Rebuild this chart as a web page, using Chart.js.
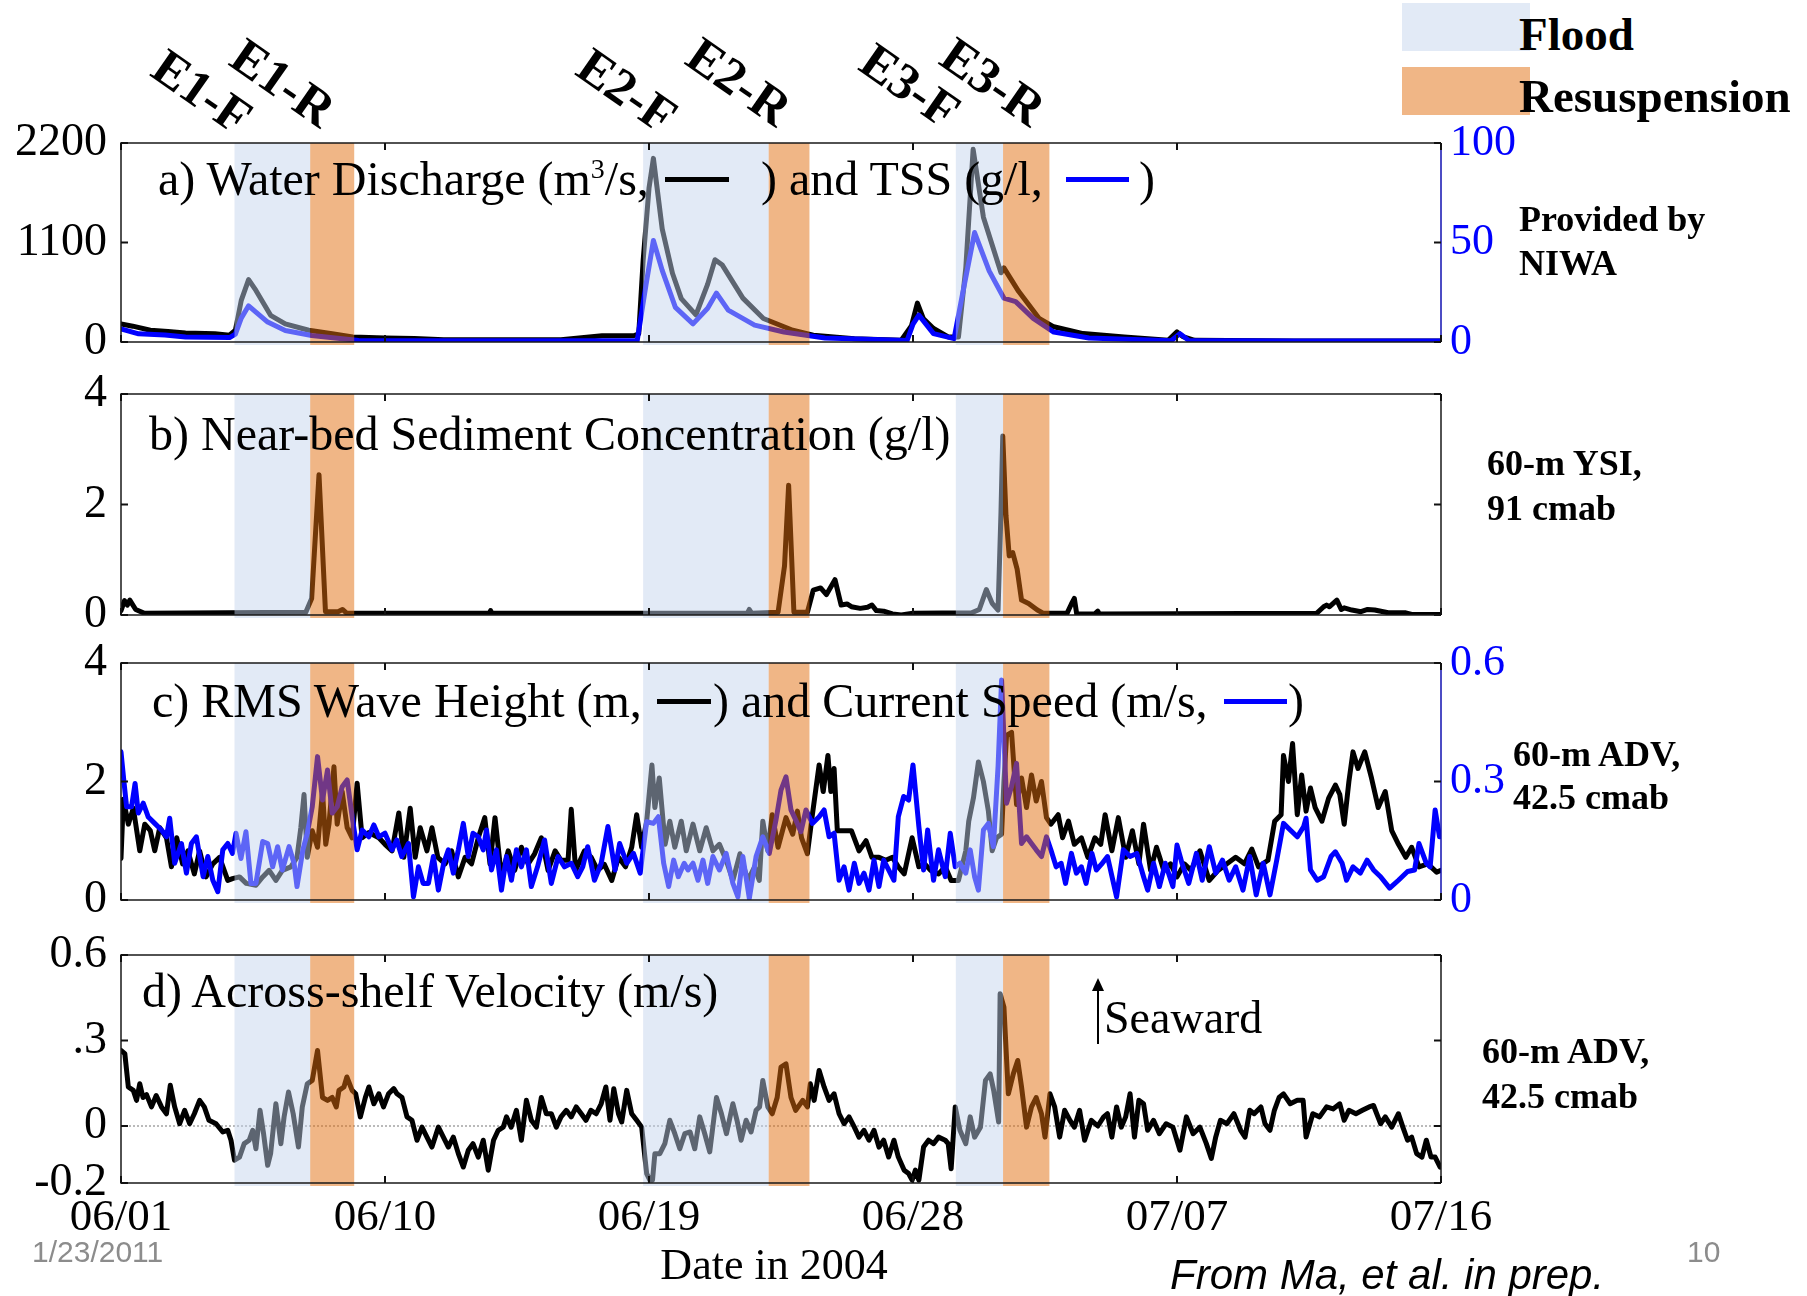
<!DOCTYPE html>
<html>
<head>
<meta charset="utf-8">
<script src="https://cdn.jsdelivr.net/npm/chart.js@4.4.0/dist/chart.umd.min.js"></script>
<style>
  body { margin: 0; background: #fff; }
  #page { position: relative; width: 1807px; height: 1296px; overflow: hidden; font-family: 'Liberation Serif', 'Times New Roman', serif; }
  canvas { position: absolute; left: 0; }
  .t { position: absolute; white-space: nowrap; line-height: 1; z-index: 3; color: #000; }
  .ttl { font-size: 48px; }
  .note { font-size: 36px; font-weight: bold; }
  .leg { font-size: 47px; font-weight: bold; }
  .ev { font-size: 51px; font-weight: bold; transform: translate(-50%, -50%) rotate(35deg); }
  .dash { position: absolute; height: 5px; z-index: 3; }
  .box { position: absolute; z-index: 1; }
  .sans { font-family: 'Liberation Sans', Arial, sans-serif; }
  sup { font-size: 28px; vertical-align: 17px; line-height: 0; }
</style>
</head>
<body>
<div id="page">
  <canvas id="ca" width="1807" height="289" style="top:98px"></canvas>
  <canvas id="cb" width="1807" height="311" style="top:349px"></canvas>
  <canvas id="cc" width="1807" height="327" style="top:618px"></canvas>
  <canvas id="cd" width="1807" height="343" style="top:910px"></canvas>

  <!-- event labels -->
  <div class="t ev" style="left:202px;top:92px">E1-F</div>
  <div class="t ev" style="left:283px;top:83px">E1-R</div>
  <div class="t ev" style="left:627px;top:91px">E2-F</div>
  <div class="t ev" style="left:739px;top:82px">E2-R</div>
  <div class="t ev" style="left:910px;top:86px">E3-F</div>
  <div class="t ev" style="left:993px;top:82px">E3-R</div>

  <!-- legend -->
  <div class="box" style="left:1402px;top:3px;width:128px;height:48px;background:#e2eaf6"></div>
  <div class="box" style="left:1402px;top:67px;width:128px;height:48px;background:#f0b686"></div>
  <div class="t leg" style="left:1519px;top:11px">Flood</div>
  <div class="t leg" style="left:1519px;top:73px">Resuspension</div>

  <!-- panel titles -->
  <div class="t ttl" style="left:158px;top:155px">a) Water Discharge (m<sup>3</sup>/s,</div>
  <div class="dash" style="left:665px;top:177px;width:64px;background:#000"></div>
  <div class="t ttl" style="left:761px;top:155px">) and TSS (g/l,</div>
  <div class="dash" style="left:1066px;top:177px;width:63px;background:#0000ff"></div>
  <div class="t ttl" style="left:1139px;top:155px">)</div>

  <div class="t ttl" style="left:149px;top:410px">b) Near-bed Sediment Concentration (g/l)</div>

  <div class="t ttl" style="left:152px;top:677px">c) RMS Wave Height (m,</div>
  <div class="dash" style="left:657px;top:699px;width:54px;background:#000"></div>
  <div class="t ttl" style="left:713px;top:677px">) and Current Speed (m/s,</div>
  <div class="dash" style="left:1224px;top:699px;width:63px;background:#0000ff"></div>
  <div class="t ttl" style="left:1288px;top:677px">)</div>

  <div class="t ttl" style="left:142px;top:967px">d) Across-shelf Velocity (m/s)</div>

  <!-- seaward arrow -->
  <svg style="position:absolute;left:1088px;top:978px;z-index:3" width="20" height="70">
    <line x1="10" y1="10" x2="10" y2="66" stroke="#000" stroke-width="2"/>
    <polygon points="10,0 4,13 16,13" fill="#000"/>
  </svg>
  <div class="t" style="left:1104px;top:995px;font-size:46px">Seaward</div>

  <!-- instrument notes -->
  <div class="t note" style="left:1519px;top:201px">Provided by</div>
  <div class="t note" style="left:1519px;top:245px">NIWA</div>
  <div class="t note" style="left:1487px;top:445px">60-m YSI,</div>
  <div class="t note" style="left:1487px;top:490px">91 cmab</div>
  <div class="t note" style="left:1513px;top:736px">60-m ADV,</div>
  <div class="t note" style="left:1513px;top:779px">42.5 cmab</div>
  <div class="t note" style="left:1482px;top:1033px">60-m ADV,</div>
  <div class="t note" style="left:1482px;top:1078px">42.5 cmab</div>

  <!-- footer -->
  <div class="t" style="left:774px;top:1243px;font-size:44px;transform:translateX(-50%)">Date in 2004</div>
  <div class="t sans" style="left:32px;top:1237px;font-size:30px;color:#8c8c8c">1/23/2011</div>
  <div class="t sans" style="left:1687px;top:1237px;font-size:30px;color:#8c8c8c">10</div>
  <div class="t sans" style="left:1170px;top:1254px;font-size:42px;font-style:italic">From Ma, et al. in prep.</div>
</div>

<script>
// x axis = days since 06/01/2004
const dateLabels = ['06/01', '06/10', '06/19', '06/28', '07/07', '07/16'];
const dayTicks = [0, 9, 18, 27, 36, 45];

// event windows (days)
const floodBands = [[3.87, 6.45], [17.8, 22.08], [28.46, 30.07]];
const resuspBands = [[6.45, 7.95], [22.08, 23.47], [30.07, 31.65]];

// y tick values / labels
const aLeftTicks = [0, 1100, 2200];
const aRightTicks = [0, 50, 100];
const bTicks = [0, 2, 4];
const cLeftTicks = [0, 2, 4];
const cRightTicks = [0, 0.3, 0.6];
const cRightLabels = ['0', '0.3', '0.6'];
const dTicks = [-0.2, 0, 0.3, 0.6];
const dTickLabels = ['-0.2', '0', '.3', '0.6'];

// a) water discharge, m3/s  [day, value]
const discharge = [[0,200],[0.4,175],[1.0,130],[1.6,115],[2.2,100],[3.2,92],[3.7,75],[3.9,130],[4.1,460],[4.35,690],[4.6,570],[5.1,295],[5.6,200],[6.4,130],[7.2,92],[7.9,55],[9.0,45],[10.0,40],[11,25],[13,25],[15,25],[16.4,70],[17.5,72],[17.65,90],[17.8,900],[18.0,1700],[18.15,2030],[18.45,1250],[18.8,760],[19.1,480],[19.6,300],[20.0,640],[20.25,910],[20.5,850],[21.2,485],[21.9,260],[22.9,130],[23.6,75],[25.0,37],[26.6,20],[26.95,180],[27.15,430],[27.35,260],[27.7,150],[28.2,56],[28.55,56],[28.8,820],[29.05,2130],[29.4,1380],[30.0,765],[30.1,820],[30.6,560],[31.3,260],[31.8,168],[32.8,93],[34.2,56],[35.7,19],[36.0,112],[36.2,60],[36.6,19],[40,12],[45,12]];

// a) TSS, g/l
const tss = [[0,6.6],[0.6,4.1],[1.5,3.5],[2.2,2.5],[3.7,2.2],[3.9,4],[4.1,12],[4.35,18.2],[4.6,15],[5.0,10],[5.6,5.8],[6.5,3.3],[7.3,2],[8.1,0.8],[10,0.6],[14,0.6],[17.6,0.8],[17.9,29],[18.15,51],[18.45,36],[18.9,17.4],[19.5,9.1],[20.0,17],[20.3,24.6],[20.7,16],[21.6,8.5],[22.6,5],[24.0,2],[26.8,0.8],[27.0,9],[27.2,13.5],[27.7,4.2],[28.4,1.7],[28.7,25],[29.1,55],[29.6,35.6],[30.1,22],[30.5,20.3],[31.1,11.9],[31.8,5],[33.0,2],[35.8,0.6],[36.1,4.2],[36.4,0.8],[40,0.5],[45,0.5]];

// b) near-bed sediment concentration, g/l
const sediment = [[0,0.08],[0.12,0.26],[0.22,0.18],[0.3,0.27],[0.5,0.1],[0.8,0.03],[6.3,0.05],[6.5,0.3],[6.75,2.54],[6.97,0.06],[7.4,0.06],[7.55,0.1],[7.7,0.03],[12.55,0.03],[12.6,0.08],[12.65,0.03],[21.35,0.03],[21.42,0.1],[21.5,0.03],[22.4,0.05],[22.62,0.89],[22.76,2.35],[22.94,0.05],[23.4,0.05],[23.6,0.45],[23.85,0.49],[24.05,0.37],[24.34,0.64],[24.55,0.18],[24.75,0.2],[24.9,0.15],[25.2,0.12],[25.45,0.14],[25.6,0.18],[25.75,0.08],[26.0,0.07],[26.3,0.02],[26.6,0.0],[27.0,0.03],[29.0,0.04],[29.26,0.1],[29.5,0.46],[29.7,0.21],[29.9,0.09],[30.0,1.87],[30.06,3.24],[30.17,1.8],[30.28,1.07],[30.4,1.13],[30.55,0.83],[30.7,0.27],[30.94,0.21],[31.24,0.09],[31.45,0.03],[32.25,0.03],[32.4,0.2],[32.5,0.3],[32.58,0.02],[33.2,0.02],[33.3,0.07],[33.35,0.02],[40.76,0.03],[41.0,0.15],[41.1,0.18],[41.2,0.15],[41.45,0.27],[41.6,0.1],[41.7,0.13],[41.96,0.09],[42.27,0.06],[42.5,0.1],[42.74,0.09],[43.2,0.04],[43.8,0.04],[44.0,0.01],[45.0,0.01]];

// c) RMS wave height, m
const waveHeight = [[0,0.7],[0.08,1.7],[0.25,1.28],[0.42,1.55],[0.64,0.83],[0.81,1.28],[1.0,1.17],[1.15,0.83],[1.32,1.22],[1.55,1.05],[1.72,0.56],[1.9,1.05],[2.1,0.61],[2.28,0.83],[2.5,0.44],[2.68,0.83],[2.9,0.39],[3.13,0.61],[3.36,0.72],[3.64,0.33],[3.8,0.36],[4.04,0.39],[4.27,0.28],[4.6,0.25],[4.83,0.39],[5.05,0.5],[5.28,0.33],[5.5,0.5],[5.79,0.56],[6.0,0.72],[6.13,1.22],[6.24,1.78],[6.35,0.72],[6.52,1.17],[6.7,0.89],[6.87,1.83],[6.98,0.94],[7.09,1.28],[7.26,2.25],[7.37,1.28],[7.54,1.83],[7.71,1.22],[7.88,1.05],[8.05,1.97],[8.22,1.05],[8.45,1.14],[8.79,1.05],[9.0,0.94],[9.24,0.83],[9.47,1.47],[9.64,0.72],[9.86,1.55],[10.03,0.72],[10.2,1.22],[10.43,0.83],[10.6,1.22],[10.8,0.72],[11.05,0.61],[11.27,0.83],[11.5,0.39],[11.73,0.72],[11.95,0.61],[12.18,1.05],[12.4,1.39],[12.58,0.61],[12.75,1.39],[12.97,0.39],[13.2,0.83],[13.42,0.5],[13.65,0.89],[13.88,0.61],[14.1,0.78],[14.33,1.05],[14.56,0.5],[14.8,0.83],[15.0,0.67],[15.24,0.67],[15.35,1.53],[15.5,0.5],[15.8,0.83],[16.03,0.72],[16.25,0.5],[16.48,0.6],[16.73,0.33],[16.96,0.72],[17.2,0.56],[17.41,0.89],[17.58,1.44],[17.75,0.89],[17.92,1.33],[18.1,2.28],[18.2,1.56],[18.35,2.06],[18.55,0.94],[18.71,1.33],[18.88,0.89],[19.1,1.33],[19.27,0.83],[19.5,1.28],[19.73,0.83],[19.95,1.22],[20.18,0.83],[20.4,0.94],[20.63,0.67],[20.86,0.33],[21.1,0.78],[21.37,0.33],[21.6,0.56],[21.76,0.33],[21.88,1.33],[22.05,0.83],[22.2,1.44],[22.4,0.89],[22.67,1.39],[22.9,1.11],[23.06,1.5],[23.2,1.05],[23.4,0.78],[23.57,1.44],[23.8,2.28],[23.94,1.83],[24.1,2.44],[24.2,1.83],[24.31,2.22],[24.42,1.17],[24.9,1.17],[25.16,0.83],[25.4,1.0],[25.6,0.72],[25.84,0.72],[26.07,0.67],[26.3,0.72],[26.5,0.56],[26.7,0.44],[26.97,1.05],[27.2,0.56],[27.4,0.61],[27.6,0.5],[27.87,0.44],[28.1,0.56],[28.3,0.33],[28.55,0.33],[28.8,0.83],[28.9,1.33],[29.06,1.72],[29.23,2.33],[29.4,2.0],[29.57,1.5],[29.7,0.83],[29.85,1.05],[30.02,1.11],[30.1,2.0],[30.19,2.78],[30.36,2.83],[30.53,1.61],[30.7,2.06],[30.87,1.56],[31.04,2.11],[31.2,1.67],[31.38,2.0],[31.55,1.39],[31.7,1.28],[31.95,1.44],[32.1,1.05],[32.3,1.33],[32.5,0.94],[32.74,1.05],[32.96,0.72],[33.2,1.05],[33.4,0.94],[33.55,1.44],[33.78,0.83],[34.0,1.39],[34.25,0.72],[34.48,1.17],[34.7,0.61],[34.86,1.28],[35.1,0.5],[35.3,0.89],[35.55,0.5],[35.78,0.61],[36.0,0.39],[36.25,0.61],[36.48,0.5],[36.78,0.83],[37.1,0.33],[37.4,0.5],[37.7,0.61],[38.0,0.72],[38.3,0.61],[38.55,0.86],[38.78,0.56],[39.1,0.67],[39.33,1.33],[39.55,1.44],[39.63,2.44],[39.8,2.0],[39.94,2.64],[40.1,1.44],[40.25,2.11],[40.4,1.5],[40.55,1.89],[40.71,1.56],[40.94,1.33],[41.17,1.72],[41.4,1.94],[41.55,1.78],[41.7,1.28],[41.86,2.0],[42.0,2.5],[42.17,2.22],[42.4,2.5],[42.63,2.06],[42.86,1.56],[43.1,1.83],[43.32,1.17],[43.55,0.94],[43.8,0.72],[44.0,0.89],[44.25,0.56],[44.55,0.61],[44.85,0.47],[45.0,0.5]];

// c) current speed, m/s
const currentSpeed = [[0,0.375],[0.1,0.3],[0.19,0.236],[0.36,0.236],[0.48,0.295],[0.59,0.22],[0.76,0.245],[0.93,0.21],[1.15,0.194],[1.38,0.177],[1.55,0.16],[1.66,0.207],[1.83,0.093],[2.06,0.143],[2.23,0.068],[2.4,0.143],[2.57,0.16],[2.8,0.059],[2.96,0.11],[3.13,0.05],[3.3,0.021],[3.47,0.127],[3.64,0.143],[3.8,0.118],[3.92,0.169],[4.09,0.105],[4.26,0.173],[4.43,0.042],[4.6,0.042],[4.83,0.148],[5.0,0.143],[5.17,0.084],[5.34,0.135],[5.5,0.076],[5.73,0.135],[5.9,0.093],[6.0,0.034],[6.2,0.127],[6.35,0.169],[6.52,0.236],[6.7,0.363],[6.87,0.253],[7.04,0.329],[7.2,0.22],[7.37,0.236],[7.54,0.287],[7.71,0.304],[7.88,0.211],[8.05,0.127],[8.22,0.177],[8.45,0.16],[8.62,0.19],[8.79,0.16],[9.0,0.169],[9.24,0.127],[9.4,0.152],[9.57,0.11],[9.8,0.143],[9.97,0.008],[10.14,0.084],[10.3,0.042],[10.48,0.042],[10.65,0.11],[10.82,0.025],[11.0,0.093],[11.16,0.127],[11.33,0.068],[11.5,0.127],[11.67,0.194],[11.84,0.11],[12.0,0.169],[12.18,0.16],[12.35,0.127],[12.46,0.177],[12.63,0.076],[12.8,0.127],[12.97,0.025],[13.14,0.11],[13.31,0.05],[13.48,0.127],[13.65,0.084],[13.82,0.127],[13.99,0.034],[14.2,0.084],[14.44,0.152],[14.67,0.042],[14.9,0.11],[15.12,0.084],[15.35,0.093],[15.57,0.059],[15.74,0.084],[15.91,0.135],[16.14,0.05],[16.37,0.093],[16.6,0.186],[16.84,0.076],[17.0,0.143],[17.24,0.093],[17.47,0.118],[17.7,0.068],[17.92,0.198],[18.15,0.194],[18.32,0.211],[18.5,0.093],[18.67,0.034],[18.84,0.101],[19.0,0.059],[19.2,0.093],[19.33,0.076],[19.5,0.093],[19.67,0.05],[19.84,0.101],[20.0,0.042],[20.18,0.11],[20.4,0.076],[20.63,0.118],[20.86,0.042],[21.03,0.008],[21.2,0.11],[21.42,0.004],[21.65,0.11],[21.88,0.16],[22.1,0.118],[22.33,0.203],[22.5,0.278],[22.67,0.312],[22.84,0.228],[23.0,0.203],[23.18,0.173],[23.35,0.228],[23.57,0.194],[23.8,0.211],[23.97,0.228],[24.14,0.16],[24.31,0.169],[24.48,0.05],[24.65,0.084],[24.82,0.025],[25.0,0.093],[25.16,0.042],[25.33,0.068],[25.5,0.025],[25.67,0.101],[25.84,0.034],[26.0,0.101],[26.17,0.076],[26.35,0.05],[26.5,0.211],[26.68,0.262],[26.85,0.253],[27.0,0.342],[27.2,0.186],[27.36,0.076],[27.5,0.177],[27.7,0.05],[27.87,0.127],[28.1,0.059],[28.27,0.169],[28.44,0.084],[28.6,0.093],[28.8,0.068],[28.95,0.127],[29.1,0.059],[29.23,0.025],[29.4,0.177],[29.57,0.194],[29.74,0.135],[29.9,0.338],[30.02,0.557],[30.19,0.245],[30.36,0.287],[30.53,0.346],[30.7,0.143],[30.87,0.16],[31.04,0.143],[31.2,0.127],[31.38,0.11],[31.55,0.16],[31.7,0.127],[31.88,0.084],[32.05,0.093],[32.2,0.042],[32.4,0.118],[32.57,0.068],[32.74,0.084],[32.9,0.042],[33.1,0.118],[33.25,0.076],[33.42,0.09],[33.63,0.11],[33.94,0.008],[34.17,0.127],[34.4,0.11],[34.63,0.118],[34.86,0.059],[35.0,0.025],[35.2,0.093],[35.4,0.034],[35.6,0.093],[35.86,0.034],[36.0,0.139],[36.17,0.093],[36.4,0.042],[36.66,0.118],[36.86,0.05],[37.1,0.135],[37.32,0.068],[37.55,0.101],[37.78,0.05],[38.0,0.084],[38.25,0.025],[38.48,0.11],[38.7,0.013],[38.94,0.093],[39.17,0.013],[39.4,0.101],[39.63,0.194],[39.86,0.177],[40.1,0.16],[40.32,0.186],[40.4,0.207],[40.55,0.076],[40.78,0.05],[41.0,0.059],[41.25,0.11],[41.4,0.122],[41.63,0.093],[41.78,0.05],[42.0,0.084],[42.25,0.068],[42.48,0.101],[42.7,0.076],[42.94,0.059],[43.25,0.03],[43.55,0.05],[43.86,0.072],[44.1,0.076],[44.25,0.143],[44.5,0.093],[44.63,0.084],[44.8,0.228],[44.95,0.16]];

// d) across-shelf velocity, m/s (positive = seaward)
const acrossShelf = [[0,0.265],[0.13,0.254],[0.25,0.137],[0.42,0.125],[0.53,0.09],[0.64,0.148],[0.75,0.1],[0.87,0.11],[1.04,0.067],[1.2,0.107],[1.38,0.067],[1.55,0.043],[1.68,0.143],[1.83,0.067],[2.0,0.008],[2.17,0.055],[2.34,0.008],[2.5,0.043],[2.68,0.09],[2.84,0.067],[3.0,0.02],[3.24,0.008],[3.47,-0.021],[3.64,-0.015],[3.75,-0.05],[3.87,-0.12],[4.04,-0.109],[4.2,-0.062],[4.37,-0.05],[4.49,-0.015],[4.6,-0.08],[4.74,0.055],[4.86,-0.027],[5.0,-0.138],[5.1,-0.097],[5.28,0.078],[5.45,-0.062],[5.56,0.032],[5.71,0.119],[5.87,0.043],[6.05,-0.074],[6.18,0.067],[6.35,0.148],[6.52,0.16],[6.7,0.265],[6.87,0.1],[7.04,0.09],[7.2,0.1],[7.34,0.067],[7.43,0.125],[7.6,0.137],[7.7,0.172],[7.88,0.125],[8.0,0.113],[8.16,0.032],[8.33,0.1],[8.45,0.137],[8.62,0.078],[8.79,0.113],[8.95,0.067],[9.12,0.113],[9.3,0.131],[9.41,0.113],[9.58,0.1],[9.75,0.032],[9.92,0.02],[10.09,-0.05],[10.26,-0.004],[10.43,-0.039],[10.6,-0.074],[10.82,-0.004],[10.99,-0.039],[11.16,-0.074],[11.33,-0.039],[11.5,-0.097],[11.67,-0.144],[11.84,-0.085],[12.0,-0.062],[12.18,-0.109],[12.35,-0.05],[12.52,-0.155],[12.7,-0.05],[12.86,-0.015],[13.03,-0.004],[13.14,0.032],[13.3,-0.004],[13.48,0.055],[13.65,-0.05],[13.82,0.09],[13.99,0.02],[14.16,-0.004],[14.33,0.1],[14.5,0.043],[14.67,0.043],[14.84,-0.004],[15.0,0.032],[15.18,0.055],[15.35,0.032],[15.52,0.067],[15.69,0.043],[15.85,0.02],[16.02,0.055],[16.2,0.043],[16.37,0.078],[16.53,0.137],[16.67,0.02],[16.8,0.131],[16.96,0.043],[17.07,0.014],[17.24,0.125],[17.41,0.043],[17.58,0.02],[17.75,-0.004],[17.92,-0.167],[18.03,-0.19],[18.12,-0.19],[18.2,-0.097],[18.37,-0.097],[18.54,-0.062],[18.71,0.02],[18.88,-0.027],[19.05,-0.08],[19.22,-0.027],[19.4,-0.021],[19.56,-0.08],[19.73,0.032],[19.9,-0.027],[20.07,-0.091],[20.3,0.1],[20.47,0.043],[20.64,-0.027],[20.86,0.078],[21.0,0.02],[21.14,-0.05],[21.31,0.02],[21.48,-0.021],[21.65,0.055],[21.77,0.067],[21.88,0.16],[22.05,0.067],[22.2,0.043],[22.37,0.1],[22.5,0.207],[22.67,0.218],[22.84,0.1],[23.0,0.055],[23.24,0.09],[23.4,0.067],[23.5,0.148],[23.63,0.09],[23.8,0.195],[23.97,0.137],[24.14,0.09],[24.31,0.113],[24.48,0.043],[24.65,0.008],[24.82,0.032],[25.0,-0.004],[25.16,-0.039],[25.33,-0.015],[25.5,-0.05],[25.67,-0.015],[25.84,-0.074],[26.0,-0.05],[26.17,-0.109],[26.35,-0.05],[26.5,-0.109],[26.7,-0.155],[26.85,-0.167],[26.97,-0.19],[27.08,-0.155],[27.2,-0.19],[27.36,-0.074],[27.53,-0.05],[27.7,-0.062],[27.87,-0.039],[28.1,-0.05],[28.2,-0.062],[28.3,-0.15],[28.44,0.067],[28.6,-0.015],[28.8,-0.062],[28.95,0.032],[29.1,-0.039],[29.3,-0.004],[29.47,0.16],[29.63,0.183],[29.75,0.125],[29.92,0.014],[29.97,0.464],[30.1,0.417],[30.25,0.113],[30.42,0.183],[30.57,0.23],[30.7,0.137],[30.87,-0.004],[31.04,0.067],[31.2,0.1],[31.38,0.043],[31.5,-0.039],[31.67,0.113],[31.83,0.067],[32.0,-0.039],[32.17,0.055],[32.35,0.02],[32.5,-0.004],[32.68,0.055],[32.85,-0.05],[33.08,0.02],[33.3,0.0],[33.5,0.032],[33.63,0.043],[33.78,-0.039],[33.94,0.067],[34.1,-0.004],[34.25,0.032],[34.4,0.113],[34.55,-0.039],[34.7,0.09],[34.86,0.078],[35.0,-0.015],[35.2,0.02],[35.4,-0.027],[35.63,0.008],[35.86,-0.004],[36.1,-0.085],[36.32,0.032],[36.55,-0.027],[36.78,-0.004],[37.0,-0.062],[37.17,-0.114],[37.32,-0.039],[37.48,0.02],[37.7,0.008],[37.94,0.043],[38.17,-0.015],[38.32,-0.039],[38.48,0.055],[38.63,0.043],[38.86,0.067],[39.0,0.008],[39.17,-0.015],[39.32,0.055],[39.48,0.1],[39.63,0.113],[39.86,0.078],[40.1,0.09],[40.3,0.09],[40.4,-0.039],[40.63,0.043],[40.86,0.032],[41.1,0.067],[41.32,0.06],[41.55,0.078],[41.7,0.02],[41.86,0.055],[42.1,0.043],[42.32,0.055],[42.55,0.067],[42.7,0.072],[42.94,0.008],[43.1,0.032],[43.32,-0.004],[43.55,0.043],[43.7,-0.004],[43.86,-0.05],[44.0,-0.039],[44.17,-0.097],[44.35,-0.109],[44.5,-0.05],[44.66,-0.109],[44.8,-0.109],[44.97,-0.144]];

Chart.defaults.font.family = "'Liberation Serif', 'Times New Roman', serif";
Chart.defaults.color = '#000';

const pts = arr => arr.map(p => ({ x: p[0], y: p[1] }));

// bands over the curves, box frame, inward ticks, zero line
const panelDecor = {
  id: 'panelDecor',
  beforeDatasetsDraw(chart, args, o) {
    if (!o.zeroLine) return;
    const { ctx, chartArea: a, scales } = chart;
    const y0 = scales.y.getPixelForValue(0);
    ctx.save();
    ctx.strokeStyle = '#777';
    ctx.lineWidth = 1;
    ctx.setLineDash([2, 2]);
    ctx.beginPath(); ctx.moveTo(a.left, y0); ctx.lineTo(a.right, y0); ctx.stroke();
    ctx.restore();
  },
  afterDatasetsDraw(chart, args, o) {
    const { ctx, chartArea: a, scales } = chart;
    const x = scales.x, y = scales.y;
    ctx.save();
    const band = (list, color) => list.forEach(b => {
      const x0 = x.getPixelForValue(b[0]), x1 = x.getPixelForValue(b[1]);
      ctx.fillStyle = color;
      ctx.fillRect(x0, a.top, x1 - x0, a.bottom - a.top + 3);
    });
    band(floodBands, 'rgba(195,211,236,0.48)');
    band(resuspBands, 'rgba(225,109,13,0.5)');

    ctx.lineWidth = 1.5;
    ctx.strokeStyle = '#1a1a1a';
    ctx.beginPath();
    ctx.moveTo(a.right, a.top); ctx.lineTo(a.left, a.top);
    ctx.lineTo(a.left, a.bottom); ctx.lineTo(a.right, a.bottom);
    ctx.stroke();
    ctx.strokeStyle = o.rightColor || '#1a1a1a';
    ctx.beginPath(); ctx.moveTo(a.right, a.top); ctx.lineTo(a.right, a.bottom); ctx.stroke();

    ctx.lineWidth = 2;
    ctx.strokeStyle = '#111';
    ctx.beginPath();
    y.ticks.forEach(t => {
      const py = y.getPixelForValue(t.value);
      ctx.moveTo(a.left, py); ctx.lineTo(a.left + 7, py);
      ctx.moveTo(a.right, py); ctx.lineTo(a.right - 7, py);
    });
    dayTicks.forEach(d => {
      const px = x.getPixelForValue(d);
      ctx.moveTo(px, a.top); ctx.lineTo(px, a.top + 7);
      ctx.moveTo(px, a.bottom); ctx.lineTo(px, a.bottom - 7);
    });
    ctx.stroke();
    ctx.restore();
  }
};

function series(data, color, axis, order) {
  return {
    data: pts(data), borderColor: color, borderWidth: 5, pointRadius: 0,
    tension: 0, yAxisID: axis, order: order,
    borderJoinStyle: 'round', borderCapStyle: 'round'
  };
}

function yAxis(pos, min, max, ticks, labels, color, show, width) {
  return {
    position: pos, min: min, max: max,
    grid: { display: false, drawTicks: false },
    border: { display: false },
    afterBuildTicks: s => { s.ticks = ticks.map(v => ({ value: v })); },
    afterFit: s => { s.width = width; },
    ticks: {
      display: show, color: color, padding: pos === 'left' ? 14 : 9,
      font: { size: pos === 'left' ? 46 : 44 },
      callback: (v, i) => labels[i]
    }
  };
}

function panel(id, cfg) {
  const showX = !!cfg.showX;
  return new Chart(document.getElementById(id), {
    type: 'line',
    data: { datasets: cfg.datasets },
    options: {
      responsive: false, animation: false, devicePixelRatio: 1,
      layout: { padding: { top: 45, bottom: showX ? 10 : 45, left: 0, right: 0 } },
      plugins: {
        legend: { display: false }, tooltip: { enabled: false },
        panelDecor: { rightColor: cfg.rightColor, zeroLine: cfg.zeroLine }
      },
      scales: {
        x: {
          type: 'linear', min: 0, max: 45, display: showX,
          grid: { display: false, drawTicks: false },
          border: { display: false },
          afterBuildTicks: s => { s.ticks = dayTicks.map(v => ({ value: v })); },
          afterFit: s => { s.height = showX ? 60 : 0; },
          ticks: {
            autoSkip: false, maxRotation: 0, padding: 8,
            font: { size: 45 },
            callback: (v, i) => dateLabels[i]
          }
        },
        y: cfg.y,
        y2: cfg.y2
      }
    },
    plugins: [panelDecor]
  });
}

panel('ca', {
  datasets: [series(tss, '#0000ff', 'y2', 0), series(discharge, '#000', 'y', 1)],
  y: yAxis('left', 0, 2200, aLeftTicks, aLeftTicks.map(String), '#000', true, 121),
  y2: yAxis('right', 0, 100, aRightTicks, aRightTicks.map(String), '#0000ff', true, 366),
  rightColor: '#1010b0'
});

panel('cb', {
  datasets: [series(sediment, '#000', 'y', 0)],
  y: yAxis('left', 0, 4, bTicks, bTicks.map(String), '#000', true, 121),
  y2: yAxis('right', 0, 4, bTicks, bTicks.map(String), '#000', false, 366)
});

panel('cc', {
  datasets: [series(currentSpeed, '#0000ff', 'y2', 0), series(waveHeight, '#000', 'y', 1)],
  y: yAxis('left', 0, 4, cLeftTicks, cLeftTicks.map(String), '#000', true, 121),
  y2: yAxis('right', 0, 0.6, cRightTicks, cRightLabels, '#0000ff', true, 366),
  rightColor: '#1010b0'
});

panel('cd', {
  datasets: [series(acrossShelf, '#000', 'y', 0)],
  y: yAxis('left', -0.2, 0.6, dTicks, dTickLabels, '#000', true, 121),
  y2: yAxis('right', -0.2, 0.6, dTicks, dTickLabels, '#000', false, 366),
  zeroLine: true,
  showX: true
});
</script>
</body>
</html>
